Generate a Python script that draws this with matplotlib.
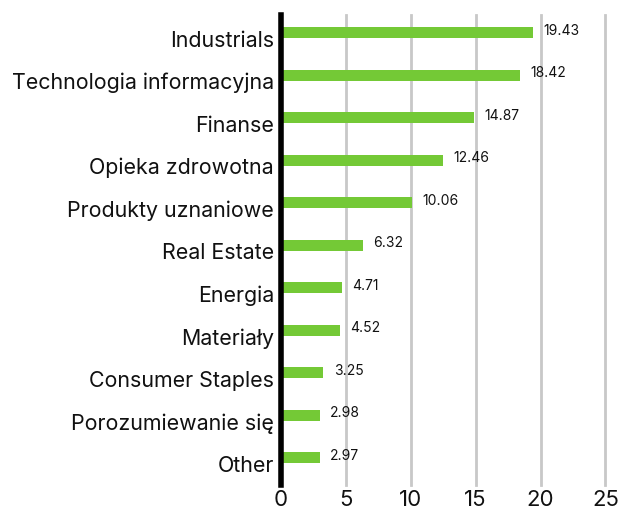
import matplotlib.pyplot as plt
import matplotlib.transforms as mtransforms

sectors = ["Industrials", "Technologia informacyjna", "Finanse", "Opieka zdrowotna",
           "Produkty uznaniowe", "Real Estate", "Energia", "Materiały",
           "Consumer Staples", "Porozumiewanie się", "Other"]
weights = [19.43, 18.42, 14.87, 12.46, 10.06, 6.32, 4.71, 4.52, 3.25, 2.98, 2.97]
xticks = [0, 5, 10, 15, 20, 25]

plt.rcParams["font.family"] = ["Inter", "DejaVu Sans"]

fig = plt.figure(figsize=(6.19, 5.13), dpi=100)
ax = fig.add_axes([0.454, 0.055, 0.524, 0.916])

y = list(range(len(sectors)))
ax.barh(y, weights, height=0.26, color="#74c936", zorder=3)
for yi, w in zip(y, weights):
    ax.text(w + 0.8, yi - 0.05, f"{w:.2f}", fontsize=10, va="center", ha="left", color="#111111")

ax.set_xlim(0, 25)
ax.set_ylim(10.635, -0.42)
ax.set_yticks(y)
ax.set_yticklabels(sectors, fontsize=15.4)
ax.set_xticks(xticks)
ax.set_xticklabels([str(t) for t in xticks], fontsize=16)
ax.tick_params(axis="both", length=0, colors="#111111")
ax.tick_params(axis="y", pad=5)
ax.tick_params(axis="x", pad=4)

# labels sit a little below the bars in the original
shift = mtransforms.ScaledTranslation(0, -0.06, fig.dpi_scale_trans)
for lab in ax.get_yticklabels():
    lab.set_transform(lab.get_transform() + shift)

ax.grid(axis="x", color="#c8c8c8", linewidth=2, zorder=0)
for gl in ax.get_xgridlines():
    gl.set_clip_on(False)
for s in ["top", "right", "bottom"]:
    ax.spines[s].set_visible(False)
ax.spines["left"].set_linewidth(4)
ax.spines["left"].set_color("black")
ax.spines["left"].set_zorder(4)

fig.savefig("out.png", dpi=100)
